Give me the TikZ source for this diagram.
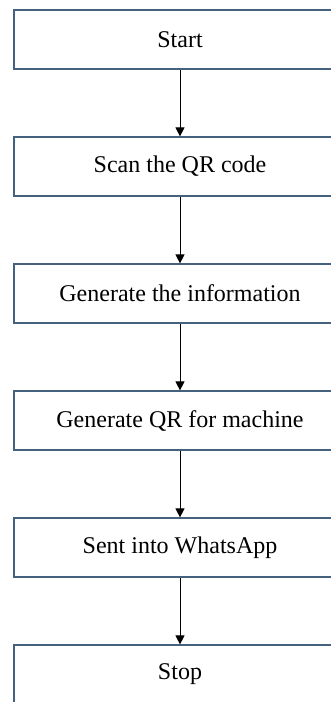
\documentclass[tikz,border=0pt]{standalone}
\usepackage{fontspec}
\setmainfont{Liberation Serif}
\usetikzlibrary{arrows.meta, positioning}
\definecolor{boxline}{HTML}{44617E}

\begin{document}
\begin{tikzpicture}[node distance=63.5pt,on grid,auto]
    \tikzstyle{stepbox}=[shape=rectangle,draw=boxline,line width=0.6pt,minimum width=166pt,minimum height=29.5pt,inner sep=0pt,font=\fontsize{12}{14}\selectfont]

    \useasboundingbox (0,0) rectangle (165.5pt,-351pt);
    \clip (0,0) rectangle (165.5pt,-351pt);

    \node[stepbox] (S1) at (90pt,-19.75pt) {Start};
    \node[stepbox, below of=S1] (S2) {Scan the QR code};
    \node[stepbox, below of=S2] (S3) {Generate the information};
    \node[stepbox, below of=S3] (S4) {Generate QR for machine};
    \node[stepbox, below of=S4] (S5) {Sent into WhatsApp};
    \node[stepbox, below of=S5] (S6) {Stop};

    \path[-{Triangle[length=4.5pt,width=4.5pt]},draw,line width=0.5pt]
    (S1) edge (S2)
    (S2) edge (S3)
    (S3) edge (S4)
    (S4) edge (S5)
    (S5) edge (S6)
    ;

\end{tikzpicture}
\end{document}
